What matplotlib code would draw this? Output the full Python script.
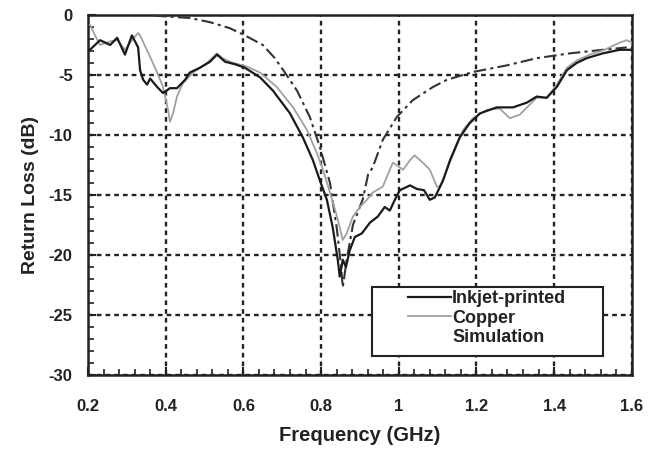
import matplotlib
matplotlib.use("Agg")
import matplotlib.pyplot as plt
from matplotlib.ticker import MultipleLocator
from matplotlib.lines import Line2D
from matplotlib.patches import Rectangle

plt.rcParams['font.family'] = ['Liberation Sans', 'DejaVu Sans']
plt.rcParams['font.weight'] = 'bold'

# Inkjet-printed (black)
ink_f = [0.205, 0.231, 0.257, 0.275, 0.295, 0.313, 0.329, 0.334, 0.342, 0.352, 0.360, 0.378,
         0.393, 0.411, 0.429, 0.450, 0.462, 0.488, 0.514, 0.532, 0.553, 0.578, 0.604, 0.643,
         0.676, 0.720, 0.753, 0.779, 0.797, 0.815, 0.830, 0.843, 0.848, 0.856, 0.864, 0.874,
         0.887, 0.905, 0.926, 0.946, 0.964, 0.977, 0.990, 1.003, 1.029, 1.047, 1.065, 1.080,
         1.093, 1.114, 1.132, 1.157, 1.183, 1.209, 1.252, 1.294, 1.330, 1.355, 1.381, 1.407,
         1.433, 1.458, 1.484, 1.525, 1.569, 1.600]
ink_db = [-2.9, -2.1, -2.5, -1.9, -3.3, -1.7, -2.7, -4.6, -5.4, -5.8, -5.3, -6.0,
          -6.5, -6.1, -6.1, -5.4, -4.8, -4.4, -3.9, -3.3, -3.9, -4.1, -4.4, -5.2,
          -6.3, -8.2, -10.2, -12.1, -13.8, -15.4, -17.7, -20.4, -21.8, -20.4, -21.0, -19.6,
          -18.5, -18.2, -17.3, -16.8, -16.0, -16.3, -15.4, -14.6, -14.2, -14.5, -14.6, -15.4,
          -15.2, -13.8, -12.1, -10.2, -9.0, -8.2, -7.7, -7.7, -7.3, -6.8, -6.9, -6.0,
          -4.6, -4.0, -3.6, -3.2, -2.9, -2.9]

# Copper (gray)
cu_f = [0.205, 0.218, 0.231, 0.257, 0.275, 0.295, 0.313, 0.329, 0.334, 0.360, 0.378, 0.393,
        0.406, 0.411, 0.419, 0.429, 0.444, 0.470, 0.506, 0.532, 0.547, 0.565, 0.609, 0.643,
        0.686, 0.728, 0.764, 0.789, 0.805, 0.823, 0.841, 0.856, 0.866, 0.882, 0.900, 0.918,
        0.933, 0.959, 0.977, 0.985, 1.011, 1.029, 1.041, 1.062, 1.080, 1.098, 1.106, 1.124,
        1.144, 1.165, 1.191, 1.227, 1.260, 1.286, 1.312, 1.330, 1.355, 1.381, 1.407, 1.433,
        1.458, 1.492, 1.530, 1.569, 1.587, 1.600]
cu_db = [-0.8, -1.7, -2.5, -2.2, -2.1, -2.9, -2.1, -1.5, -1.7, -3.5, -4.8, -6.0,
         -7.9, -8.9, -8.2, -6.8, -5.7, -4.8, -4.0, -3.2, -3.6, -3.9, -4.3, -4.8,
         -6.0, -7.7, -9.6, -11.5, -12.9, -14.8, -16.8, -18.75, -18.2, -16.8, -16.0, -15.4,
         -14.8, -14.3, -12.9, -12.3, -12.9, -12.1, -11.7, -12.3, -12.9, -14.3, -14.3, -12.9,
         -11.3, -9.6, -8.6, -7.9, -7.8, -8.6, -8.3, -7.7, -6.9, -6.9, -5.8, -4.4,
         -3.8, -3.3, -2.9, -2.3, -2.1, -2.3]

# Simulation (dash-dot)
sim_f = [0.370, 0.380, 0.424, 0.462, 0.514, 0.565, 0.604, 0.650, 0.681, 0.707, 0.738, 0.771,
         0.797, 0.823, 0.841, 0.851, 0.856, 0.866, 0.882, 0.908, 0.921, 0.933, 0.959, 0.995,
         1.036, 1.088, 1.124, 1.191, 1.278, 1.355, 1.440, 1.525, 1.587]
sim_db = [0.0, -0.08, -0.17, -0.25, -0.6, -1.1, -1.7, -2.5, -3.6, -4.8, -6.3, -8.5,
          -11.0, -14.0, -17.9, -20.8, -22.7, -20.4, -17.5, -15.3, -13.3, -12.7, -10.4, -8.5,
          -7.1, -6.0, -5.4, -4.75, -4.2, -3.6, -3.2, -2.9, -2.7]

fig = plt.figure(figsize=(6.52, 4.5), dpi=100)
ax = fig.add_axes([0.135, 0.1667, 0.834, 0.8])

ax.plot(sim_f, sim_db, color='#333333', lw=1.5, linestyle=(0, (6, 2, 1.5, 2)), zorder=3)
ax.plot(cu_f, cu_db, color='#a0a0a0', lw=1.3, zorder=4)
ax.plot(ink_f, ink_db, color='#1a1a1a', lw=1.6, zorder=5)

ax.set_xlim(0.2, 1.6)
ax.set_ylim(-30, 0)
ax.xaxis.set_minor_locator(MultipleLocator(0.04))
ax.yaxis.set_minor_locator(MultipleLocator(1))
ax.set_xticks([0.2, 0.4, 0.6, 0.8, 1.0, 1.2, 1.4, 1.6])
ax.set_xticklabels(['0.2', '0.4', '0.6', '0.8', '1', '1.2', '1.4', '1.6'])
ax.set_yticks([0, -5, -10, -15, -20, -25, -30])
ax.set_yticklabels(['0', '-5', '-10', '-15', '-20', '-25', '-30'])

ax.tick_params(which='both', direction='in', top=False, right=False, color='#222222')
ax.tick_params(which='major', length=6, width=1.5, labelsize=12)
ax.tick_params(which='minor', length=4, width=1.2)
ax.tick_params(axis='x', which='major', pad=17)
ax.tick_params(axis='y', which='major', pad=11)
for lab in ax.get_xticklabels() + ax.get_yticklabels():
    lab.set_fontweight('bold')
    lab.set_color('#222222')

ax.grid(True, which='major', color='#222222', linestyle=(0, (2.0, 1.7)), lw=1.7)
ax.set_axisbelow(True)
for s in ax.spines.values():
    s.set_linewidth(1.8)
    s.set_color('#222222')

ax.set_xlabel('Frequency (GHz)', fontsize=14.5, fontweight='bold', labelpad=9, color='#222222')
ax.set_ylabel('Return Loss (dB)', fontsize=14, fontweight='bold', labelpad=7, color='#222222')

# legend box
box = Rectangle((0.522, 0.053), 0.425, 0.191, transform=ax.transAxes, facecolor='white',
                edgecolor='#222222', lw=1.5, zorder=8)
ax.add_patch(box)
handles = [Line2D([], [], color='#1a1a1a', lw=1.6),
           Line2D([], [], color='#a0a0a0', lw=1.3),
           Line2D([], [], color='none', lw=1.3)]
leg = ax.legend(handles, ['Inkjet-printed', 'Copper', 'Simulation'],
                loc='upper left', bbox_to_anchor=(0.588, 0.236),
                frameon=False, fontsize=13, handlelength=2.4,
                handletextpad=0.05, labelspacing=0.15, borderpad=0, borderaxespad=0)
for t in leg.get_texts():
    t.set_fontweight('bold')
    t.set_color('#222222')
leg.set_zorder(10)

fig.savefig('out.png', dpi=100)
